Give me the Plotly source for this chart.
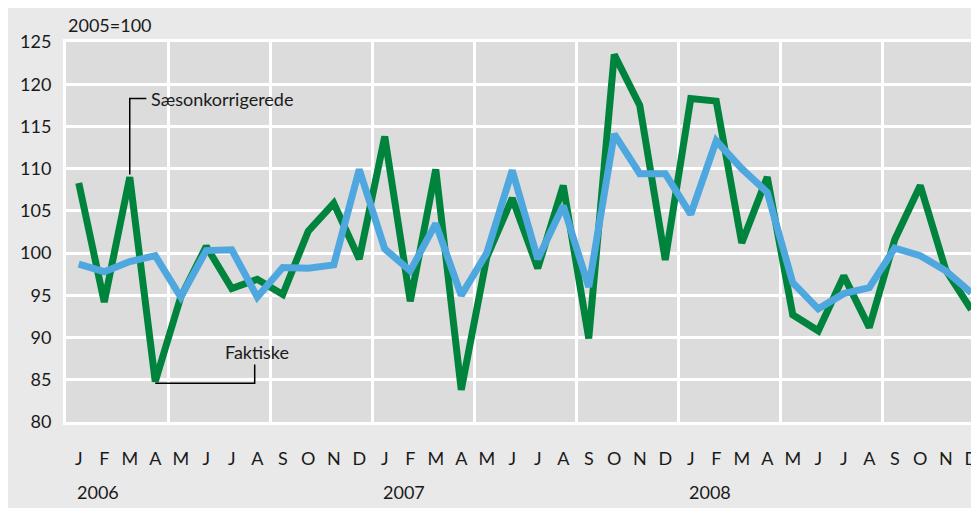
import plotly.graph_objects as go

months = ["J", "F", "M", "A", "M", "J", "J", "A", "S", "O", "N", "D"] * 3
years = ["2006", "2007", "2008"]

green = [108.3, 94.2, 109.0, 84.8, 94.8, 100.8, 95.8, 96.9, 95.1, 102.6, 105.9, 99.3,
         113.8, 94.3, 109.9, 83.8, 99.5, 106.5, 98.2, 108.0, 89.9, 123.5, 117.5, 99.2,
         118.3, 118.0, 101.2, 109.0, 92.7, 90.8, 97.3, 91.2, 101.6, 108.0, 98.0, 93.3]
blue = [98.7, 97.8, 99.0, 99.7, 94.8, 100.3, 100.4, 94.8, 98.3, 98.2, 98.6, 109.9,
        100.5, 97.9, 103.5, 95.0, 100.0, 109.8, 99.3, 105.6, 96.0, 114.1, 109.4, 109.4,
        104.6, 113.3, 110.0, 107.2, 96.5, 93.4, 95.2, 95.9, 100.6, 99.7, 97.9, 95.3]
yticks = [80, 85, 90, 95, 100, 105, 110, 115, 120, 125]

x = list(range(len(months)))
FONT = "Lato"
TXT = "#1a1a1a"

fig = go.Figure()
fig.add_trace(go.Scatter(x=x, y=green, mode="lines", name="Faktiske",
                         line=dict(color="#00843d", width=7)))
fig.add_trace(go.Scatter(x=x, y=blue, mode="lines", name="Sæsonkorrigerede",
                         line=dict(color="#4ea8df", width=7)))

# leader lines
fig.add_shape(type="path", path="M 2,109.3 L 2,118.3 L 2.65,118.3",
              line=dict(color="black", width=1.5), xref="x", yref="y")
fig.add_shape(type="path", path="M 3,84.6 L 6.9,84.6 L 6.9,86.8",
              line=dict(color="black", width=1.5), xref="x", yref="y")

fig.add_annotation(x=2.75, y=118.2, xref="x", yref="y", text="Sæsonkorrigerede",
                   showarrow=False, xanchor="left", yanchor="middle",
                   font=dict(family=FONT, size=18, color=TXT))
fig.add_annotation(x=7.0, y=88.3, xref="x", yref="y", text="Faktiske",
                   showarrow=False, xanchor="center", yanchor="middle",
                   font=dict(family=FONT, size=18, color=TXT))
fig.add_annotation(x=0.0, y=1.045, xref="paper", yref="paper", text="2005=100",
                   showarrow=False, xanchor="left", yanchor="middle",
                   font=dict(family=FONT, size=18, color=TXT))
for i, yr in enumerate(years):
    fig.add_annotation(x=12 * i - 0.15, y=-0.184, xref="x", yref="paper", text=yr,
                       showarrow=False, xanchor="left", yanchor="middle",
                       font=dict(family=FONT, size=18, color=TXT))

fig.update_layout(
    width=979, height=508,
    margin=dict(l=58, r=3, t=34, b=94),
    paper_bgcolor="#e9e9e9",
    plot_bgcolor="#dcdcdc",
    showlegend=False,
    font=dict(family=FONT, size=18, color=TXT),
    xaxis=dict(range=[-0.5, 35.5], tickmode="array", tickvals=x, ticktext=months,
               showgrid=False, zeroline=False, showline=True, linecolor="white",
               linewidth=3, mirror=True, ticks="", ticklabelstandoff=18,
               minor=dict(tickmode="array", tickvals=[3.5 + 4 * k for k in range(8)],
                          showgrid=True, gridcolor="white", gridwidth=3, ticks="")),
    yaxis=dict(range=[80, 125], tickmode="array", tickvals=yticks,
               showgrid=True, gridcolor="white", gridwidth=3, zeroline=False,
               showline=True, linecolor="white", linewidth=3, mirror=False,
               ticks="", ticklabelstandoff=8),
)

fig.write_html("out.html")
